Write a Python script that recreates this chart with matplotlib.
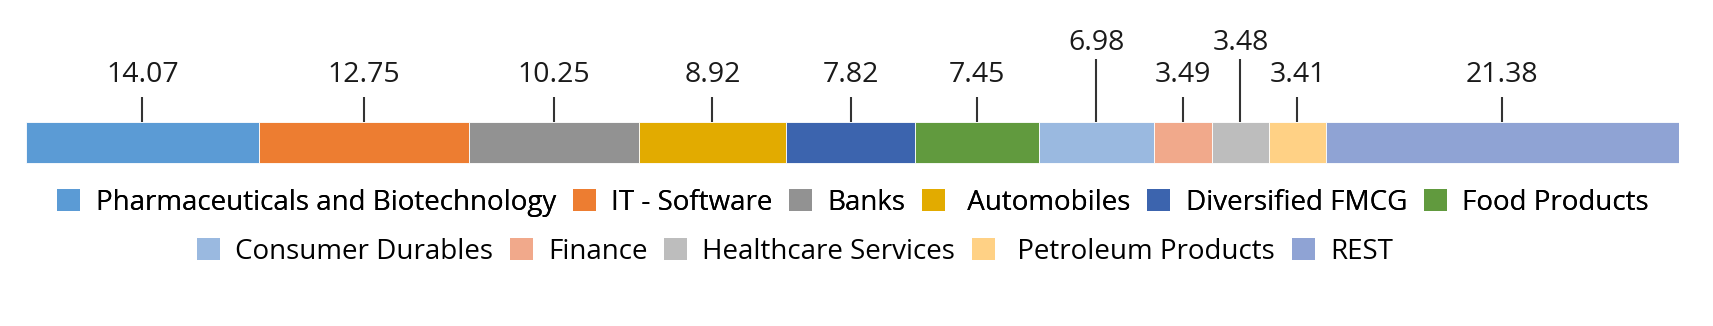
import matplotlib.pyplot as plt
from matplotlib.patches import Patch

# Sector weights (%) in order of the stacked bar
sectors = ['Pharmaceuticals and Biotechnology', 'IT - Software', 'Banks', ' Automobiles',
           'Diversified FMCG', 'Food Products', 'Consumer Durables', 'Finance',
           'Healthcare Services', ' Petroleum Products', 'REST']
weights = [14.07, 12.75, 10.25, 8.92, 7.82, 7.45, 6.98, 3.49, 3.48, 3.41, 21.38]
colors = ['#5B9BD5', '#ED7D31', '#929292', '#E2AB00', '#3C64AE', '#619A3E',
          '#9AB9E0', '#F1A98B', '#BDBDBD', '#FFD185', '#8FA3D4']
# labels lifted higher so they don't collide with their neighbours
raised = [False, False, False, False, False, False, True, False, True, False, False]

plt.rcParams['font.family'] = ['Open Sans', 'DejaVu Sans']

W, H = 1713, 326
fig = plt.figure(figsize=(W / 100, H / 100), dpi=100)
left, right = 26, 1679
ax = fig.add_axes([left / W, 0, (right - left) / W, 1])
ax.set_xlim(0, sum(weights))
ax.set_ylim(H, 0)
ax.axis('off')

start = 0
for w, c, up in zip(weights, colors, raised):
    ax.barh(142.5, w, left=start, height=41, color=c, edgecolor='white', linewidth=0.6)
    mid = start + w / 2
    line_top = 59 if up else 97
    text_base = 50 if up else 82
    ax.vlines(mid, line_top, 122, color='#333333', linewidth=1.5)
    ax.text(mid, text_base, f'{w:.2f}', ha='center', va='baseline', fontsize=20.5,
            color='#1a1a1a')
    start += w

handles = [Patch(facecolor=c, edgecolor='none') for c in colors]
legend_kw = dict(loc='center', frameon=False, fontsize=20, handlelength=0.83,
                 handleheight=0.83, handletextpad=0.55, columnspacing=0.6,
                 borderaxespad=0, borderpad=0)
leg1 = fig.legend(handles[:6], sectors[:6], ncol=6,
                  bbox_to_anchor=(0.498, 1 - 203 / H), **legend_kw)
fig.add_artist(leg1)
fig.legend(handles[6:], sectors[6:], ncol=5,
           bbox_to_anchor=(0.464, 1 - 252 / H), **legend_kw)

plt.savefig('out.png', dpi=100)
